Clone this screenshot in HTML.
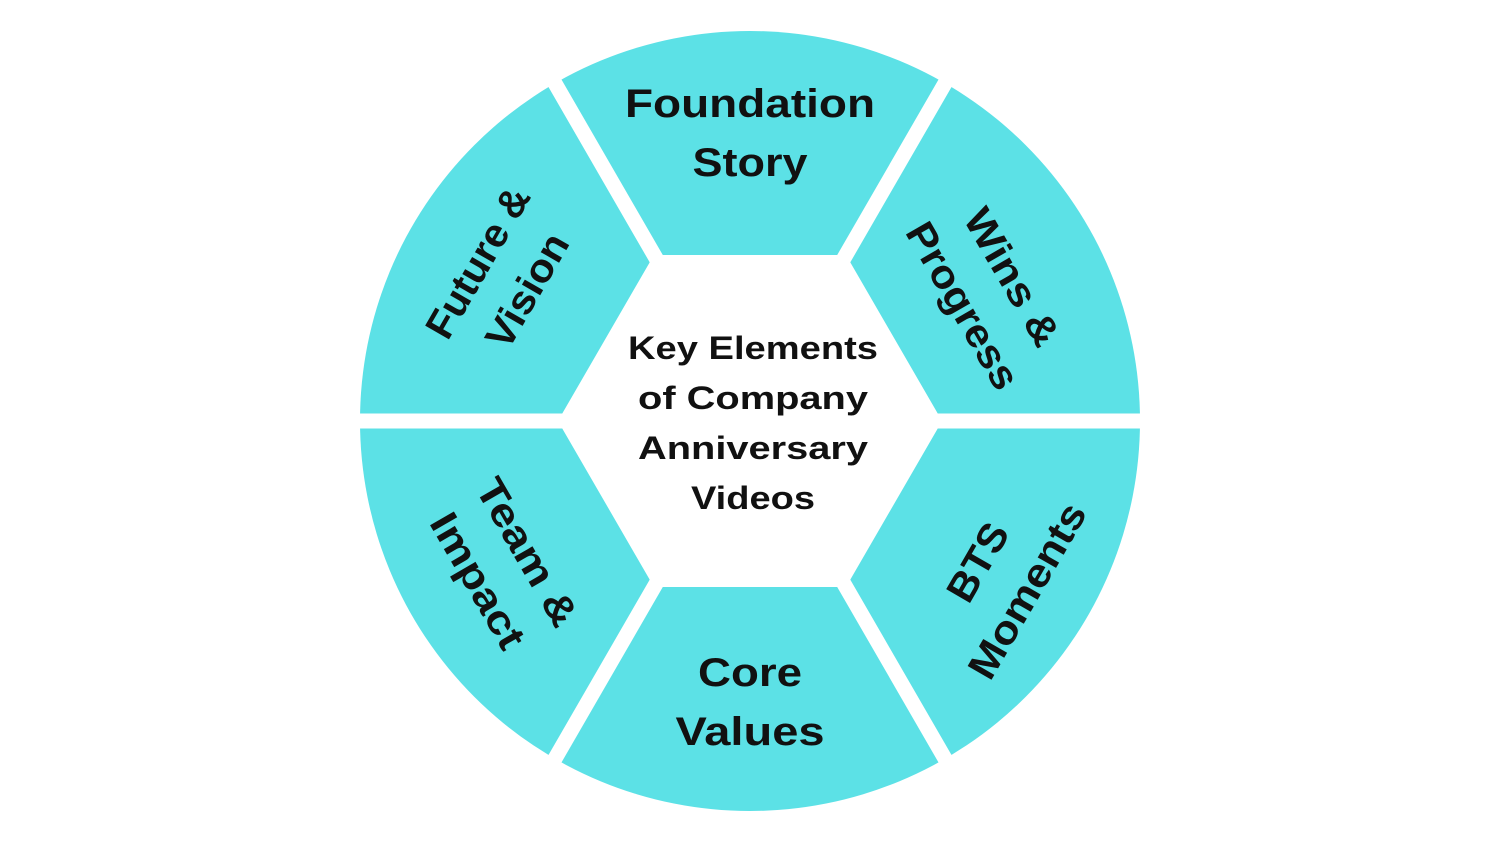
<!DOCTYPE html>
<html><head><meta charset="utf-8"><style>
html,body{margin:0;padding:0;background:#fff;width:1500px;height:844px;overflow:hidden}
text{font-family:"Liberation Sans",sans-serif;font-weight:bold;fill:#111}
</style></head><body>
<svg width="1500" height="844" viewBox="0 0 1500 844" xmlns="http://www.w3.org/2000/svg">
<circle cx="750" cy="421" r="390" fill="#5ce1e6"/>
<g stroke="#fff" stroke-width="15">
<line x1="750" y1="421" x2="1160" y2="421"/>
<line x1="750" y1="421" x2="340" y2="421"/>
<line x1="750" y1="421" x2="955" y2="66"/>
<line x1="750" y1="421" x2="545" y2="66"/>
<line x1="750" y1="421" x2="955" y2="776"/>
<line x1="750" y1="421" x2="545" y2="776"/>
</g>
<polygon points="934,421 842,262 658,262 566,421 658,580 842,580" fill="#fff" stroke="#fff" stroke-width="14" stroke-linejoin="round"/>
<g font-size="40" text-anchor="middle">
<text x="750" y="117" textLength="250" lengthAdjust="spacingAndGlyphs">Foundation</text>
<text x="750" y="176" textLength="115" lengthAdjust="spacingAndGlyphs">Story</text>
<text x="750" y="686" textLength="104" lengthAdjust="spacingAndGlyphs">Core</text>
<text x="750" y="745" textLength="149" lengthAdjust="spacingAndGlyphs">Values</text>
<g transform="translate(990,290) rotate(60)"><text x="0" y="-12" textLength="152" lengthAdjust="spacingAndGlyphs">Wins &amp;</text><text x="0" y="45" textLength="186" lengthAdjust="spacingAndGlyphs">Progress</text></g>
<g transform="translate(500,275) rotate(-60)"><text x="0" y="-12" textLength="168" lengthAdjust="spacingAndGlyphs">Future &amp;</text><text x="0" y="45" textLength="126" lengthAdjust="spacingAndGlyphs">Vision</text></g>
<g transform="translate(505,565) rotate(60)"><text x="0" y="-12" textLength="164" lengthAdjust="spacingAndGlyphs">Team &amp;</text><text x="0" y="45" textLength="150" lengthAdjust="spacingAndGlyphs">Impact</text></g>
<g transform="translate(1000,575) rotate(-60)"><text x="0" y="-12" textLength="84" lengthAdjust="spacingAndGlyphs">BTS</text><text x="0" y="45" textLength="196" lengthAdjust="spacingAndGlyphs">Moments</text></g>
</g>
<g font-size="32" text-anchor="middle">
<text x="753" y="359" textLength="250" lengthAdjust="spacingAndGlyphs">Key Elements</text>
<text x="753" y="409" textLength="230" lengthAdjust="spacingAndGlyphs">of Company</text>
<text x="753" y="459" textLength="230" lengthAdjust="spacingAndGlyphs">Anniversary</text>
<text x="753" y="509" textLength="124" lengthAdjust="spacingAndGlyphs">Videos</text>
</g>
</svg>
</body></html>
